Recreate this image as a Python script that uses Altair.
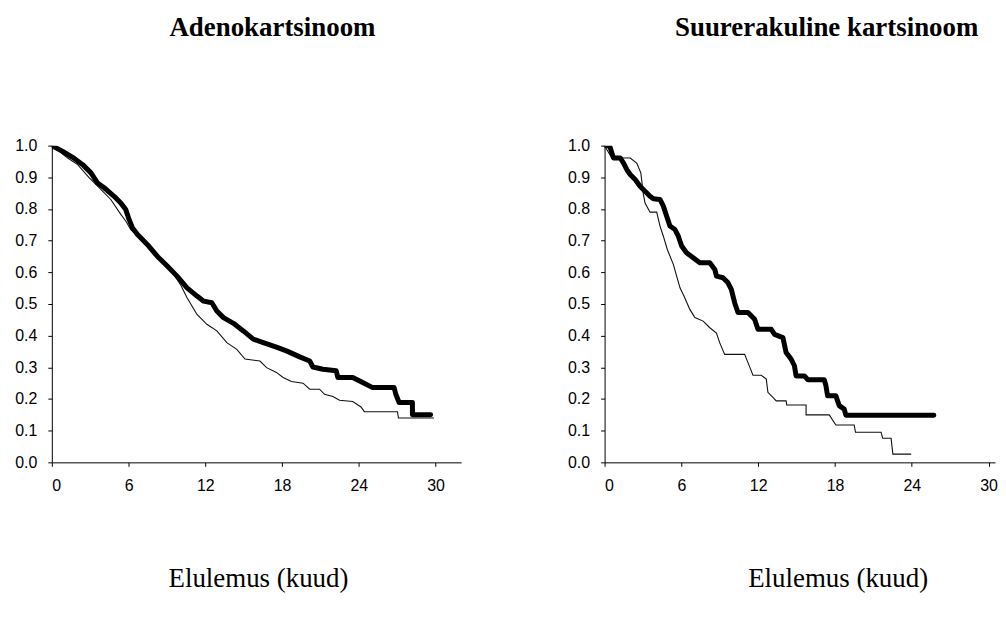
import altair as alt
import pandas as pd

# ---------------- data ----------------
titles = ["Adenokartsinoom", "Suurerakuline kartsinoom"]
xlabel = "Elulemus (kuud)"
x_ticks = [0, 6, 12, 18, 24, 30]
y_ticks = [0.0, 0.1, 0.2, 0.3, 0.4, 0.5, 0.6, 0.7, 0.8, 0.9, 1.0]

# Left panel (Adenokartsinoom) - thick curve
adeno_thick_t = [0, 0.85, 1.63, 2.41, 3.06, 3.58, 4.09, 4.87, 5.39, 5.78, 6.04, 6.30, 6.68,
                 7.46, 8.24, 9.02, 9.79, 10.57, 11.35, 11.87, 12.51, 12.90, 13.42, 14.20,
                 14.97, 15.75, 16.53, 17.56, 18.34, 19.38, 20.16, 20.41, 21.19, 22.23, 22.36,
                 23.52, 24.30, 25.08, 26.76, 26.89, 27.15, 28.19, 28.19, 29.61]
adeno_thick_s = [1.0, 0.982, 0.963, 0.940, 0.914, 0.882, 0.867, 0.840, 0.819, 0.798, 0.767,
                 0.741, 0.720, 0.688, 0.651, 0.620, 0.588, 0.551, 0.525, 0.509, 0.504, 0.478,
                 0.457, 0.439, 0.415, 0.389, 0.378, 0.364, 0.352, 0.333, 0.320, 0.301, 0.294,
                 0.289, 0.268, 0.268, 0.252, 0.236, 0.236, 0.215, 0.189, 0.189, 0.150, 0.150]
# Left panel - thin curve
adeno_thin_t = [0, 1.24, 2.02, 2.93, 3.58, 4.61, 5.39, 5.78, 6.17, 6.68, 7.46, 8.24, 9.02,
                9.53, 10.05, 10.57, 11.35, 12.12, 12.90, 13.68, 14.46, 15.10, 16.27, 16.79,
                17.56, 18.08, 18.73, 19.64, 20.16, 20.93, 21.32, 21.97, 22.49, 23.52, 24.17,
                24.43, 27.02, 27.10, 29.87]
adeno_thin_s = [1.0, 0.961, 0.940, 0.898, 0.872, 0.830, 0.783, 0.762, 0.735, 0.718, 0.686,
                0.650, 0.618, 0.593, 0.562, 0.520, 0.467, 0.436, 0.415, 0.378, 0.357, 0.326,
                0.320, 0.299, 0.284, 0.268, 0.255, 0.250, 0.231, 0.231, 0.215, 0.208, 0.196,
                0.192, 0.175, 0.160, 0.160, 0.140, 0.140]

# Right panel (Suurerakuline kartsinoom) - thick curve
large_thick_t = [0, 0.39, 0.57, 0.70, 1.22, 1.48, 1.74, 2.00, 2.39, 2.77, 3.16, 3.55, 3.81,
                 4.33, 4.59, 4.85, 5.11, 5.50, 5.76, 6.02, 6.40, 6.92, 7.44, 8.22, 8.61, 8.74,
                 9.25, 9.64, 9.90, 10.16, 10.42, 11.20, 11.72, 11.98, 13.02, 13.28, 13.93,
                 14.18, 14.57, 14.83, 14.96, 15.61, 15.87, 17.16, 17.29, 17.42, 18.07, 18.33,
                 18.72, 18.85, 25.72]
large_thick_s = [1.0, 1.0, 0.977, 0.961, 0.961, 0.945, 0.924, 0.909, 0.893, 0.872, 0.856,
                 0.840, 0.832, 0.830, 0.809, 0.777, 0.746, 0.735, 0.714, 0.683, 0.662, 0.646,
                 0.630, 0.630, 0.609, 0.588, 0.583, 0.567, 0.546, 0.504, 0.473, 0.473, 0.452,
                 0.420, 0.420, 0.404, 0.394, 0.347, 0.326, 0.305, 0.273, 0.273, 0.261, 0.261,
                 0.242, 0.210, 0.210, 0.179, 0.168, 0.149, 0.149]
# Right panel - thin curve
large_thin_t = [0, 0.18, 0.57, 2.00, 2.51, 2.83, 3.03, 3.16, 3.55, 4.07, 4.33, 4.59, 4.90,
                5.37, 5.63, 5.89, 6.20, 6.66, 7.05, 7.70, 8.22, 8.74, 8.99, 9.38, 10.94, 11.20,
                11.46, 11.59, 12.24, 12.63, 12.76, 13.15, 13.41, 14.18, 14.23, 15.74, 15.74,
                17.55, 18.07, 19.50, 19.60, 21.60, 21.73, 22.38, 22.52, 23.95]
large_thin_s = [1.0, 0.987, 0.961, 0.961, 0.945, 0.914, 0.846, 0.819, 0.790, 0.790, 0.746,
                0.714, 0.672, 0.625, 0.588, 0.551, 0.525, 0.483, 0.457, 0.446, 0.425, 0.408,
                0.378, 0.341, 0.341, 0.315, 0.289, 0.275, 0.275, 0.263, 0.221, 0.205, 0.194,
                0.194, 0.181, 0.181, 0.150, 0.150, 0.118, 0.118, 0.095, 0.095, 0.076, 0.076,
                0.026, 0.026]

SERIF = "Liberation Serif"
SANS = "Liberation Sans"


def frame(t, s):
    return pd.DataFrame({"t": t, "s": s, "i": list(range(len(t)))})


def panel(title, thick_t, thick_s, thin_t, thin_s, xmax, width, title_dx, axis_title_x):
    xscale = alt.Scale(domain=[0, xmax], nice=False, zero=True)
    yscale = alt.Scale(domain=[0, 1], nice=False)
    xaxis = alt.Axis(values=x_ticks, title=xlabel, grid=False, tickSize=4,
                     labelPadding=11, labelFont=SANS, labelFontSize=16,
                     labelColor="#000", domainColor="#000", tickColor="#000",
                     titleFont=SERIF, titleFontSize=27, titleFontWeight="normal",
                     titleColor="#000", titleX=axis_title_x, titleY=117,
                     titleAnchor="middle", titleAlign="center", titleBaseline="middle")
    yaxis = alt.Axis(values=y_ticks, format=".1f", title=None, grid=False, tickSize=4,
                     labelPadding=11, labelFont=SANS, labelFontSize=16,
                     labelColor="#000", domainColor="#000", tickColor="#000")
    thin = alt.Chart(frame(thin_t, thin_s)).mark_line(
        color="#111", strokeWidth=1.1, interpolate="linear", clip=True
    ).encode(
        x=alt.X("t:Q", scale=xscale, axis=xaxis),
        y=alt.Y("s:Q", scale=yscale, axis=yaxis),
        order="i:Q",
    )
    thick = alt.Chart(frame(thick_t, thick_s)).mark_line(
        color="#000", strokeWidth=5, strokeCap="round", strokeJoin="round",
        interpolate="linear", clip=True
    ).encode(
        x=alt.X("t:Q", scale=xscale, axis=xaxis),
        y=alt.Y("s:Q", scale=yscale, axis=yaxis),
        order="i:Q",
    )
    return alt.layer(thin, thick).properties(
        width=width, height=318,
        view=alt.ViewBackground(stroke="transparent", strokeWidth=0),
        title=alt.TitleParams(title, anchor="middle", frame="group", dx=title_dx,
                              offset=96, font=SERIF, fontSize=27, fontWeight="bold",
                              color="#000"),
    )


left = panel(titles[0], adeno_thick_t, adeno_thick_s, adeno_thin_t, adeno_thin_s,
             32, 411, 16, 207)
right = panel(titles[1], large_thick_t, large_thick_s, large_thin_t, large_thin_s,
              30.5, 392, 27, 234)

chart = alt.hconcat(left, right, spacing=106).properties(
    padding={"left": 6, "top": 5, "right": 0, "bottom": 5}
).configure_view(stroke="transparent", strokeWidth=0).configure(background="white")

chart.save("out.html", embed_options={"renderer": "svg", "actions": False})
